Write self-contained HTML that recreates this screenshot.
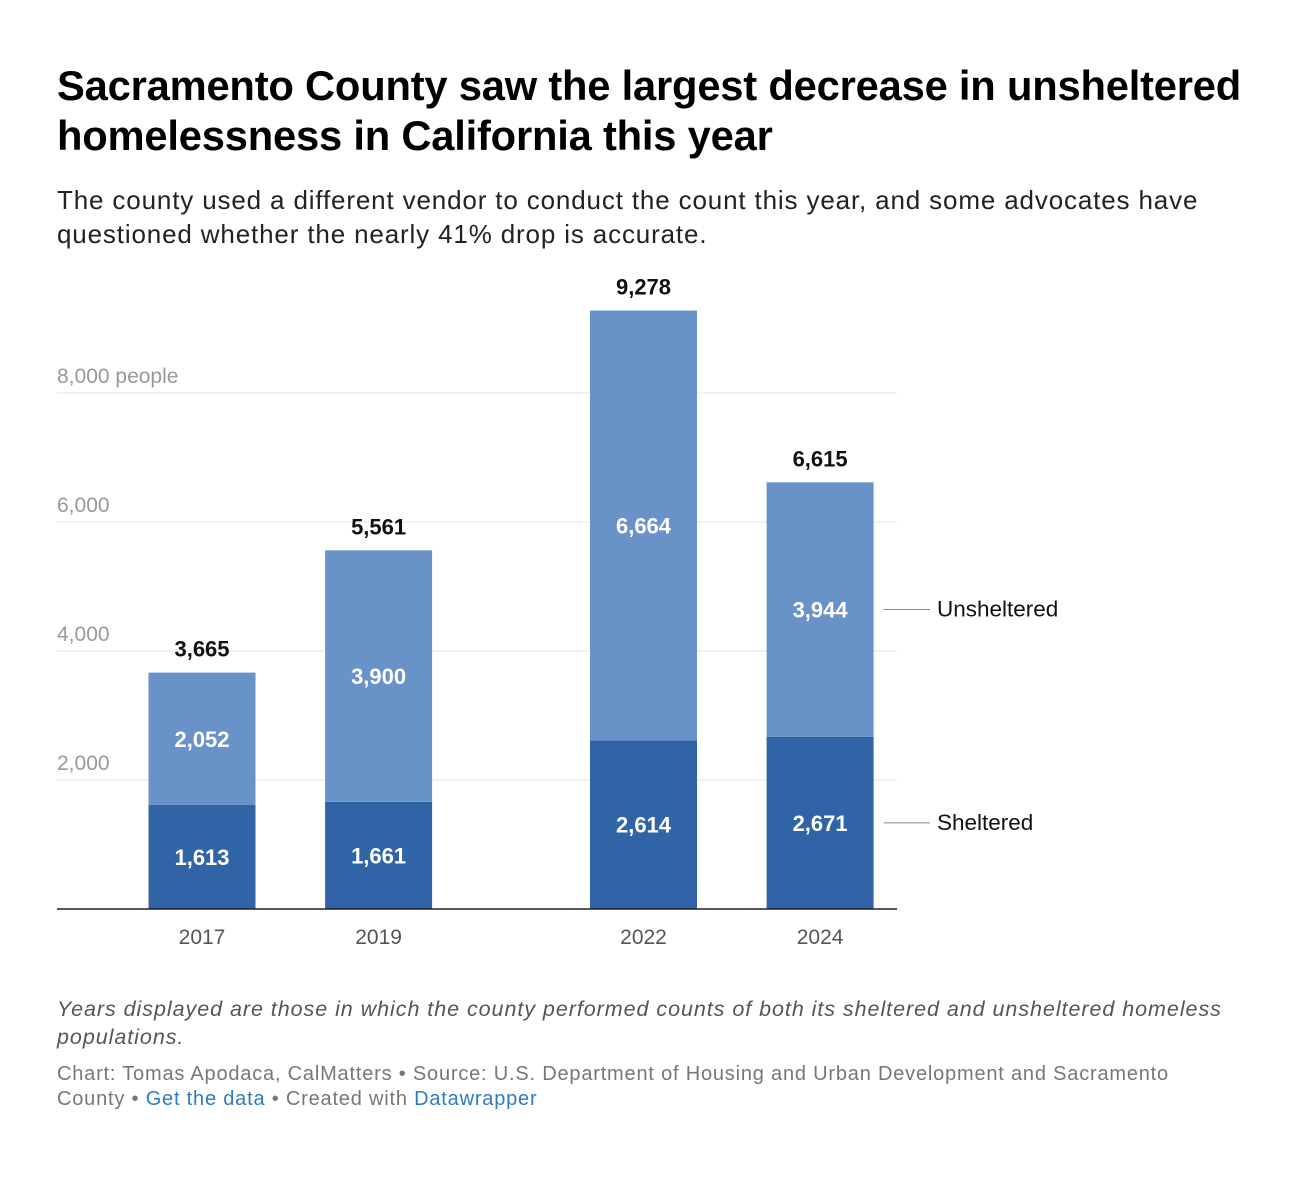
<!DOCTYPE html>
<html><head><meta charset="utf-8"><style>
body{margin:0;background:#fff;font-family:"Liberation Sans",sans-serif;}
#wrap{position:relative;width:1316px;height:1178px;overflow:hidden;}
.t{position:absolute;left:57px;white-space:nowrap;}
</style></head><body>
<div id="wrap">
<div class="t" style="top:61px;font-size:41.7px;font-weight:bold;line-height:50px;color:#000;letter-spacing:-0.2px">Sacramento County saw the largest decrease in unsheltered<br>homelessness in California this year</div>
<div class="t" style="top:183px;font-size:26px;line-height:34px;color:#222;letter-spacing:0.85px">The county used a different vendor to conduct the count this year, and some advocates have<br>questioned whether the nearly 41% drop is accurate.</div>
<svg id="chart" width="1316" height="1178" style="position:absolute;left:0;top:0"></svg>
<div class="t" style="top:995px;font-size:21.5px;line-height:28px;font-style:italic;color:#555;letter-spacing:0.95px">Years displayed are those in which the county performed counts of both its sheltered and unsheltered homeless<br>populations.</div>
<div class="t" style="top:1062px;font-size:20px;line-height:25px;color:#777;letter-spacing:0.8px">Chart: Tomas Apodaca, CalMatters • Source: U.S. Department of Housing and Urban Development and Sacramento<br>County • <span style="color:#2d7bc0">Get the data</span> • Created with <span style="color:#2d7bc0">Datawrapper</span></div>
</div>
<script>
const years=[2017,2019,2022,2024];
const sheltered=[1613,1661,2614,2671];
const unsheltered=[2052,3900,6664,3944];
const totals=[3665,5561,9278,6615];
const yTicks=[2000,4000,6000,8000];
const yTickLabels=["2,000","4,000","6,000","8,000 people"];
const svg=document.getElementById('chart');
const NS="http://www.w3.org/2000/svg";
const y0=909, pxPer=129/2000;
const y=v=>y0-v*pxPer;
const x=yr=>202+(yr-2017)*88.3;
const bw=107;
function mk(tag,attrs,txt){const e=document.createElementNS(NS,tag);for(const k in attrs)e.setAttribute(k,attrs[k]);if(txt!==undefined)e.textContent=txt;svg.appendChild(e);return e;}
yTicks.forEach((t,i)=>{
  const g=mk('line',{x1:57,x2:897,y1:y(t),y2:y(t),stroke:'#e3e3e3','stroke-width':1});
  
  
  const l=mk('text',{x:57,y:y(t)-10,'font-size':21,fill:'#999','font-family':'Liberation Sans'},yTickLabels[i]);
  
  
});
years.forEach((yr,i)=>{
  const cx=x(yr);
  const s=mk('rect',{x:cx-bw/2,y:y(sheltered[i]),width:bw,height:y0-y(sheltered[i]),fill:'#3164a6'});
  
  
  const top=sheltered[i]+unsheltered[i];
  const u=mk('rect',{x:cx-bw/2,y:y(top),width:bw,height:y(sheltered[i])-y(top),fill:'#6992c8'});
  
  
  const f={'text-anchor':'middle','font-size':22,'font-weight':'bold','font-family':'Liberation Sans'};
  const a=mk('text',Object.assign({x:cx,y:(y0+y(sheltered[i]))/2+8,fill:'#fff'},f),sheltered[i].toLocaleString('en-US'));
  
  
  const b=mk('text',Object.assign({x:cx,y:(y(sheltered[i])+y(top))/2+8,fill:'#fff'},f),unsheltered[i].toLocaleString('en-US'));
  
  
  const c=mk('text',Object.assign({x:cx,y:y(totals[i])-16,fill:'#111'},f),totals[i].toLocaleString('en-US'));
  
  
  const xl=mk('text',{x:cx,y:944,'text-anchor':'middle','font-size':21,fill:'#555','font-family':'Liberation Sans'},String(yr));
  
  
});
const ax=mk('line',{x1:57,x2:897,y1:y0,y2:y0,stroke:'#222','stroke-width':1.5});


const li=years.length-1, lcx=x(years[li]);
[["Unsheltered",(y(sheltered[li])+y(sheltered[li]+unsheltered[li]))/2],["Sheltered",(y0+y(sheltered[li]))/2]].forEach(([n,yy])=>{
  const ln=mk('line',{x1:lcx+bw/2+10,x2:930,y1:yy,y2:yy,stroke:'#888','stroke-width':1});
  
  
  const t=mk('text',{x:937,y:yy+7,'font-size':22.5,fill:'#111','font-family':'Liberation Sans'},n);
  
  
});
</script>
</body></html>
